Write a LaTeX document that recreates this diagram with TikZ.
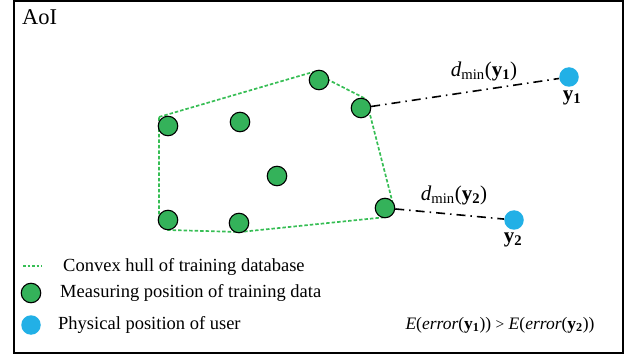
\documentclass[tikz,border=0pt]{standalone}
\usepackage{fontspec}
\setmainfont{Liberation Serif}
\definecolor{ptgreen}{RGB}{52,178,90}
\definecolor{hullgreen}{RGB}{55,190,85}
\definecolor{userblue}{RGB}{34,176,230}
\begin{document}
\begin{tikzpicture}[x=1pt,y=-1pt,
    train/.style={circle,draw=black,line width=1.1pt,fill=ptgreen,minimum size=19.5pt,inner sep=0pt},
    user/.style={circle,fill=userblue,minimum size=19.5pt,inner sep=0pt},
    hull/.style={hullgreen,line width=1.7pt,dash pattern=on 3.5pt off 2pt},
    dmin/.style={line width=1.6pt,dash pattern=on 9pt off 5pt on 1.5pt off 5pt},
    lbl/.style={font=\fontsize{18.5}{22}\selectfont,inner sep=0pt},
    ylbl/.style={font=\fontsize{21}{24}\selectfont,inner sep=0pt}]
    \useasboundingbox (0,0) rectangle (632,358);
    \draw[line width=2pt] (14,1) rectangle (623,353);
    \node[lbl,font=\fontsize{22.5}{26}\selectfont,anchor=west] (aoi) at (22,17) {AoI};
    % convex hull
    \draw[hull] (159,117) -- (313,72) -- (366,99) -- (394,208) -- (387,217)
        -- (240,232) -- (168,230) -- (159,221) -- cycle;
    % training data
    \node[train] (t1) at (168,126) {};
    \node[train] (t2) at (240,122) {};
    \node[train] (t3) at (319,80) {};
    \node[train] (t4) at (361,108) {};
    \node[train] (t5) at (277,176) {};
    \node[train] (t6) at (168,220) {};
    \node[train] (t7) at (239,223) {};
    \node[train] (t8) at (385,208) {};
    % users
    \node[user] (u1) at (569,77) {};
    \node[user] (u2) at (514,220) {};
    \node[ylbl] (u1lbl) at (572,98) {\textbf{y}\textsubscript{\textbf{1}}};
    \node[ylbl] (u2lbl) at (513,240) {\textbf{y}\textsubscript{\textbf{2}}};
    \draw[dmin] (t4) -- (u1);
    \draw[dmin] (t8) -- (u2);
    \node[ylbl] (d1) at (484,71) {\textit{d}\textsubscript{min}(\textbf{y}\textsubscript{\textbf{1}})};
    \node[ylbl] (d2) at (454,195) {\textit{d}\textsubscript{min}(\textbf{y}\textsubscript{\textbf{2}})};
    % legend
    \coordinate (lg1a) at (23,266);
    \coordinate (lg1b) at (42,266);
    \draw[hull,line width=1.2pt,dash pattern=on 2.5pt off 2pt] (lg1a) -- (lg1b);
    \node[train] (lg2) at (31,293) {};
    \node[user] (lg3) at (31,325) {};
    \node[lbl,anchor=west] (lg1txt) at (63,267) {Convex hull of training database};
    \node[lbl,anchor=west] (lg2txt) at (60,293) {Measuring position of training data};
    \node[lbl,anchor=west] (lg3txt) at (58,325) {Physical position of user};
    \node[lbl,font=\fontsize{17.5}{21}\selectfont] (cmp) at (500,325) {\textit{E}(\textit{error}(\textbf{y}\textsubscript{\textbf{1}})) {\fontsize{15.5}{18}\selectfont >} \textit{E}(\textit{error}(\textbf{y}\textsubscript{\textbf{2}}))};
\end{tikzpicture}
\end{document}
